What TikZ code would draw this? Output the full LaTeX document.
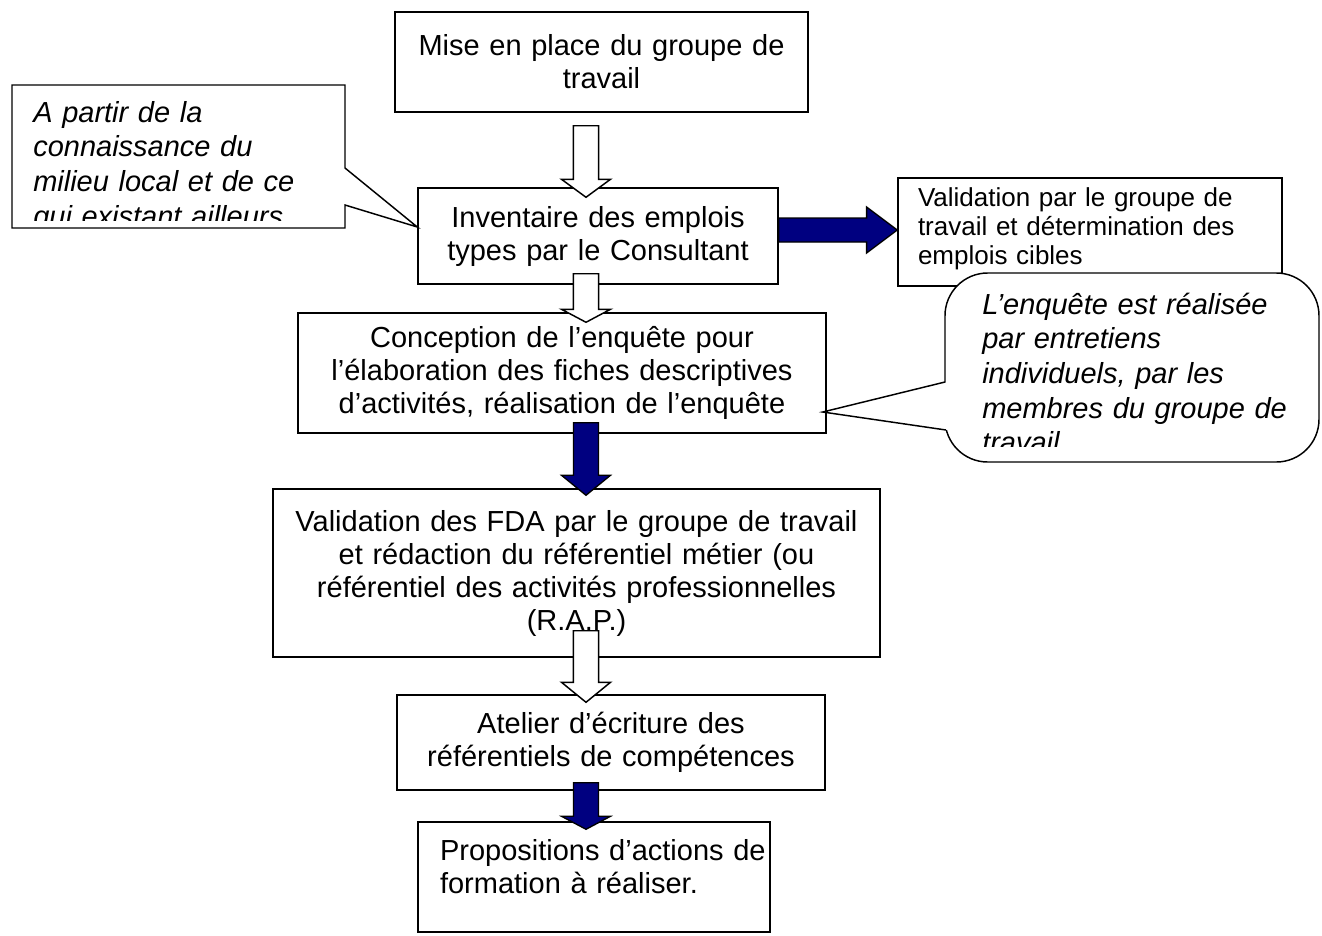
\documentclass[tikz,border=0pt]{standalone}
\usepackage{fontspec}
\setmainfont{Liberation Sans}
\usetikzlibrary{calc}
\definecolor{navy}{RGB}{0,0,128}
\newcommand{\boxfont}{\fontsize{21.75}{24.75}\selectfont}
\newcommand{\sidefont}{\fontsize{19.5}{22}\selectfont}
\newcommand{\notefont}{\fontsize{21.75}{26}\selectfont\itshape}

\begin{document}
\begin{tikzpicture}[x=0.75pt, y=-0.75pt,
  main/.style = {draw, fill=white, line width=1.1pt, align=center, inner sep=0pt, font=\boxfont},
  note/.style = {align=left, inner sep=0pt, font=\notefont},
  hollow/.style = {draw, fill=white, line width=1.1pt},
  filled/.style = {draw, fill=navy, line width=1pt},
  downarrow/.style = {to path={let \p1=(\tikztostart), \p2=(\tikztotarget) in
      (\x1-9.4pt,\y1) -- (\x1+9.4pt,\y1) -- (\x1+9.4pt,\y2+#1) -- (\x1+18.4pt,\y2+#1)
      -- (\x1,\y2) -- (\x1-18.4pt,\y2+#1) -- (\x1-9.4pt,\y2+#1) -- cycle}},
  downarrow/.default = 13.5pt,
  rightarrow/.style = {to path={let \p1=(\tikztostart), \p2=(\tikztotarget) in
      (\x1,\y1-9pt) -- (\x2-23pt,\y1-9pt) -- (\x2-23pt,\y1-17.25pt) -- (\x2,\y1)
      -- (\x2-23pt,\y1+17.25pt) -- (\x2-23pt,\y1+9pt) -- (\x1,\y1+9pt) -- cycle}}]
\useasboundingbox (0,0) rectangle (1322,936);

% the steps
\node[main, text width=309.75pt, minimum height=75pt] (1) at (601.5,62) {Mise en place du groupe de\\travail};
\node[main, text width=270pt, minimum height=72pt] (2) at (598,236) {Inventaire des emplois\\types par le Consultant};
\node[main, text width=396pt, minimum height=90pt] (3) at (562,373) {Conception de l’enquête pour\\l’élaboration des fiches descriptives\\d’activités, réalisation de l’enquête};
\node[main, text width=455.25pt, minimum height=126pt] (4) at (576.5,573) {Validation des FDA par le groupe de travail\\et rédaction du référentiel métier (ou\\référentiel des activités professionnelles\\(R.A.P.)};
\node[main, text width=321pt, minimum height=71.25pt] (5) at (611,742.5) {Atelier d’écriture des\\référentiels de compétences};
\node[main, align=left, text width=261pt, inner xsep=1.5pt, minimum height=82.5pt] (6) at (594,877) {\hspace*{15pt}Propositions d’actions de\\\hspace*{15pt}formation à réaliser.\\[-9pt]\mbox{}};
\node[main, align=left, font=\sidefont, text width=258pt, inner xsep=15pt, minimum height=81pt] (7) at (1090,232) {Validation par le groupe de\\travail et détermination des\\emplois cibles\\[-13pt]\mbox{}};

% left note
\coordinate (p1) at ($(2.west)+(0,-9)$);
\draw[hollow] (12,85) -- (345,85) -- (345,168) -- (p1) -- (345,205) -- (345,228) -- (12,228) -- cycle;
\begin{scope}
  \clip (12,85) rectangle (345,220);
  \node[note, text width=225pt, anchor=base west] (n1) at (33,122) {A partir de la\\connaissance du\\milieu local et de ce\\qui existant ailleurs};
\end{scope}

% right note
\coordinate (p2) at ($(3.east)+(-4,39)$);
\draw[hollow, rounded corners=32pt] (945,273) rectangle (1319,462);
\fill[white] (948,382) -- (p2) -- (948,430) -- cycle;
\draw[line width=1.1pt] (945,382) -- (p2) -- (946,430);
\begin{scope}
  \clip (945,273) rectangle (1319,446);
  \node[note, text width=250pt, anchor=base west] (n2) at (982,314) {L’enquête est réalisée\\par entretiens\\individuels, par les\\membres du groupe de\\travail};
\end{scope}

% arrows
\coordinate (s1) at ($(1.south)+(-15.5,13)$);
\coordinate (e1) at ($(2.north)+(-12,10)$);
\coordinate (s2) at ($(2.south)+(-12,-11)$);
\coordinate (e2) at ($(3.north)+(24,10)$);
\coordinate (s3) at ($(3.south)+(24,-11)$);
\coordinate (e3) at ($(4.north)+(9.5,7)$);
\coordinate (s4) at ($(4.south)+(9.5,-27)$);
\coordinate (e4) at ($(5.north)+(-25,8)$);
\coordinate (s5) at ($(5.south)+(-25,-8)$);
\coordinate (e5) at ($(6.north)+(-8,8)$);
\coordinate (s6) at ($(2.east)+(0,-6)$);
\coordinate (e6) at ($(7.west)+(0,-2)$);
\draw[hollow] (s1) to[downarrow=13.5pt] (e1);
\draw[hollow] (s2) to[downarrow=9.75pt] (e2);
\draw[filled] (s3) to[downarrow=15pt] (e3);
\draw[hollow] (s4) to[downarrow=15pt] (e4);
\draw[filled] (s5) to[downarrow=9.75pt] (e5);
\draw[filled] (s6) to[rightarrow] (e6);
\end{tikzpicture}
\end{document}
